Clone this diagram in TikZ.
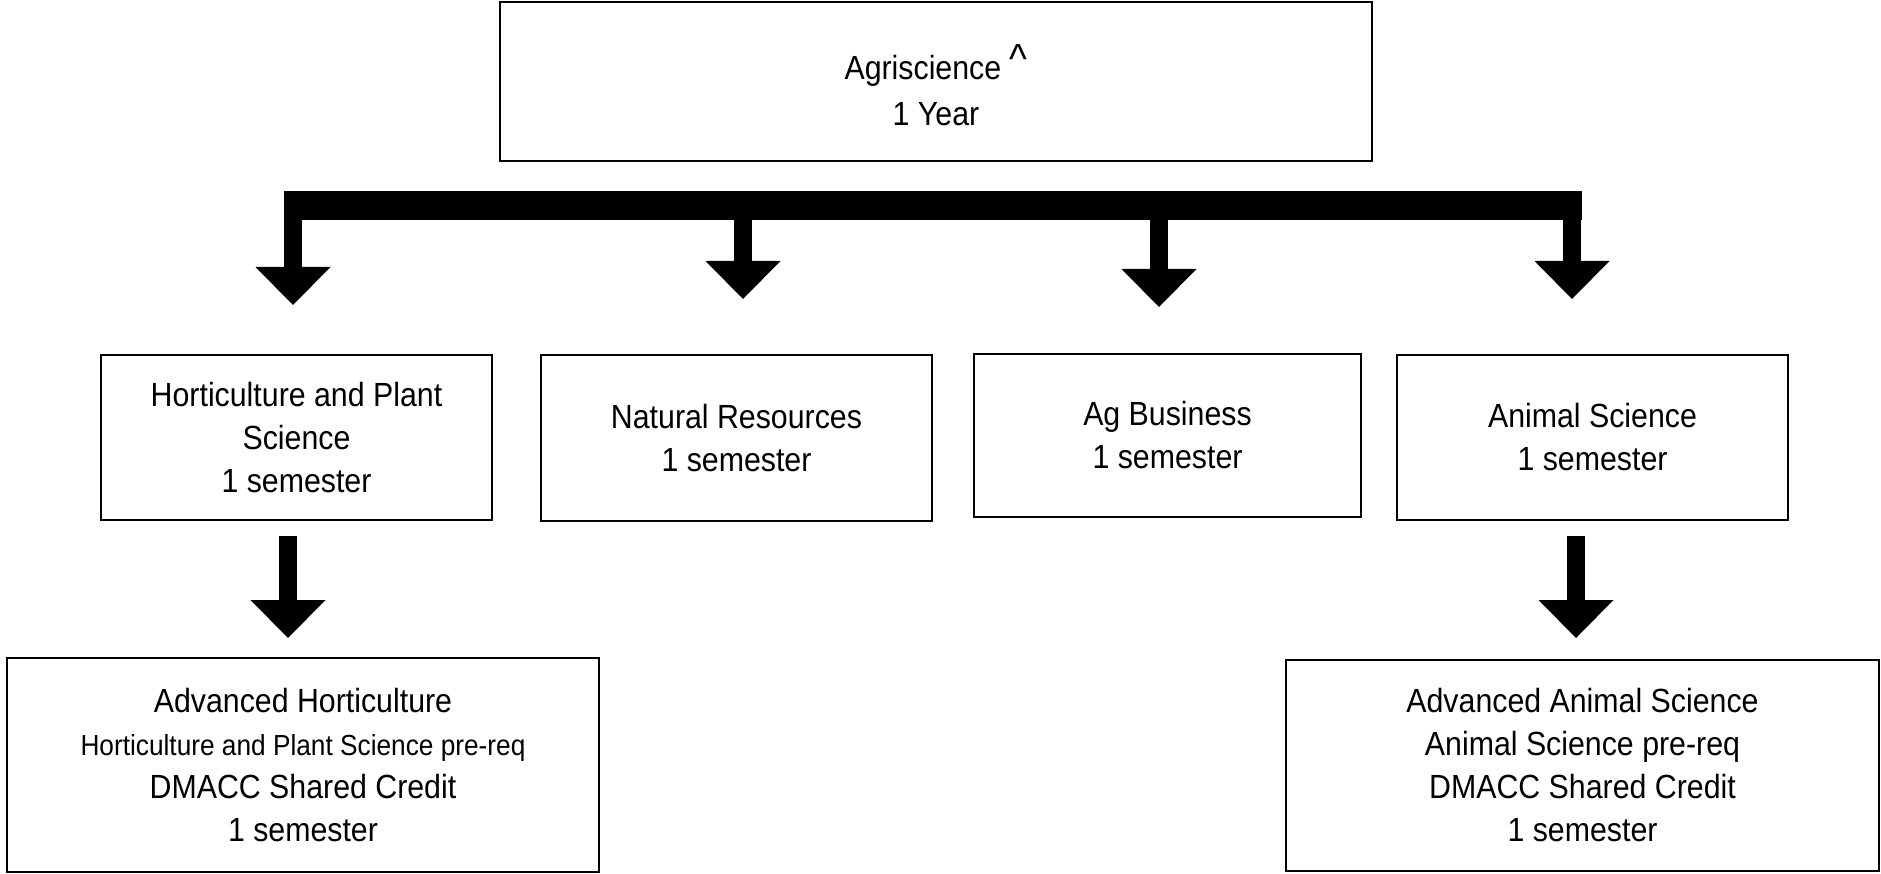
\documentclass[tikz,border=0pt]{standalone}
\usepackage{fontspec}
\setmainfont[FakeStretch=0.905]{Liberation Sans}
\usetikzlibrary{arrows.meta}
\begin{document}
\begin{tikzpicture}[x=1pt,y=-1pt,
  box/.style={draw, line width=2.2pt, inner sep=0pt, align=center,
    font=\fontsize{33.5}{43}\selectfont},
  boxtext/.style={inner sep=0pt, align=center, font=\fontsize{33.5}{46}\selectfont},
  blockarrow/.style={line width=18pt,
    -{Triangle[width=75pt,length=38pt,line width=0pt]}},
  bar/.style={line width=29pt}]
\useasboundingbox (0,0) rectangle (1881,874);

% top course
\node[box, minimum width=872pt, minimum height=159pt] (agri) at (936,81.5) {};
\node[boxtext] (agritext) at (936,85.5)
  {Agriscience \raisebox{6pt}{\fontsize{42}{42}\selectfont\char94}\\1 Year};

% second row
\node[box, minimum width=391pt, minimum height=165pt] (hort) at (296.5,437.5)
  {Horticulture and Plant\\Science\\1 semester};
\node[box, minimum width=391pt, minimum height=166pt] (natres) at (736.5,438)
  {Natural Resources\\1 semester};
\node[box, minimum width=387pt, minimum height=163pt] (agbus) at (1167.5,435.5)
  {Ag Business\\1 semester};
\node[box, minimum width=391pt, minimum height=165pt] (animal) at (1592.5,437.5)
  {Animal Science\\1 semester};

% advanced courses
\node[box, minimum width=592pt, minimum height=214pt] (advhort) at (303,765)
  {Advanced Horticulture\\{\fontsize{29}{43}\selectfont Horticulture and Plant Science pre-req}\\DMACC Shared Credit\\1 semester};
\node[box, minimum width=593pt, minimum height=211pt] (advanimal) at (1582.5,765.5)
  {Advanced Animal Science\\Animal Science pre-req\\DMACC Shared Credit\\1 semester};

% distribution bar under the top course
\coordinate (barL) at (284,205.5);
\coordinate (barR) at (1582,205.5);
\coordinate (s1) at (293,205.5);  \coordinate (t1) at (293,305);
\coordinate (s2) at (743,205.5);  \coordinate (t2) at (743,299);
\coordinate (s3) at (1159,205.5); \coordinate (t3) at (1159,307);
\coordinate (s4) at (1572,205.5); \coordinate (t4) at (1572,299);
\draw[blockarrow] (s1) -- (t1);
\draw[blockarrow] (s2) -- (t2);
\draw[blockarrow] (s3) -- (t3);
\draw[blockarrow] (s4) -- (t4);
\draw[bar] (barL) -- (barR);

% arrows to the advanced courses
\coordinate (h1) at (288,536);  \coordinate (h2) at (288,638);
\coordinate (a1) at (1576,536); \coordinate (a2) at (1576,638);
\draw[blockarrow] (h1) -- (h2);
\draw[blockarrow] (a1) -- (a2);
\end{tikzpicture}
\end{document}
